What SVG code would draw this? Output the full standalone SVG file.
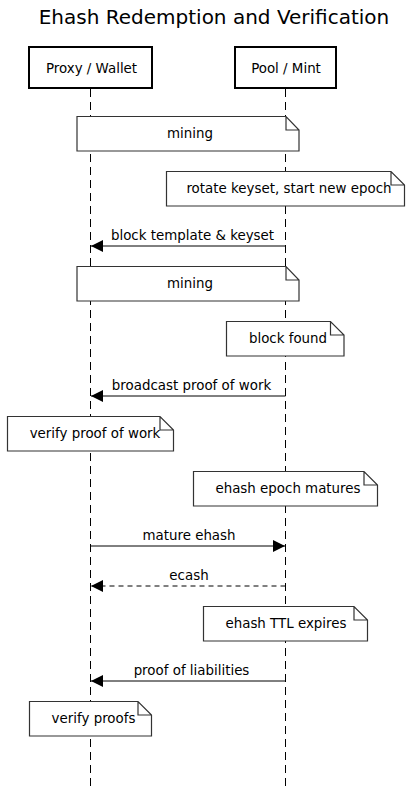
<svg xmlns="http://www.w3.org/2000/svg" width="412" height="789" viewBox="0 0 412 789">
<defs>
<style>
text{font-family:"DejaVu Sans","Liberation Sans",sans-serif;fill:#000;}
.title{font-size:20px;text-anchor:middle;}
.lbl{font-size:13.4px;text-anchor:middle;}
.actor{fill:#fff;stroke:#000;stroke-width:2;}
.note{fill:#fff;stroke:#333;stroke-width:1.2;}
.life{stroke:#000;stroke-width:1;stroke-dasharray:8,5;fill:none;}
.msg{stroke:#000;stroke-width:1;fill:none;}
.dash{stroke-dasharray:5,4;}
</style>
<marker id="ah" markerWidth="12" markerHeight="12" refX="12" refY="6" orient="auto" markerUnits="userSpaceOnUse">
<path d="M0,0 L12,6 L0,12 Z" fill="#000"/>
</marker>
</defs>
<rect width="412" height="789" fill="#fff"/>
<text class="title" x="214" y="24">Ehash Redemption and Verification</text>
<g id="lifelines">
<line class="life" x1="90.5" y1="89" x2="90.5" y2="789"/>
<line class="life" x1="285.5" y1="89" x2="285.5" y2="789"/>
</g>
<g id="proxy">
<rect class="actor" x="29" y="47" width="123" height="41"/>
<text class="lbl" x="91.5" y="73">Proxy / Wallet</text>
</g>
<g id="pool">
<rect class="actor" x="235" y="47" width="101" height="41"/>
<text class="lbl" x="286" y="73">Pool / Mint</text>
</g>
<g id="connectors">
<line class="msg" x1="285.5" y1="246" x2="91" y2="246" marker-end="url(#ah)"/>
<text class="lbl" x="192.5" y="240">block template &amp; keyset</text>
<line class="msg" x1="285.5" y1="396" x2="91" y2="396" marker-end="url(#ah)"/>
<text class="lbl" x="191.5" y="390">broadcast proof of work</text>
<line class="msg" x1="90.5" y1="546" x2="285" y2="546" marker-end="url(#ah)"/>
<text class="lbl" x="189" y="540">mature ehash</text>
<line class="msg dash" x1="285.5" y1="586" x2="91" y2="586" marker-end="url(#ah)"/>
<text class="lbl" x="189" y="580">ecash</text>
<line class="msg" x1="285.5" y1="681" x2="91" y2="681" marker-end="url(#ah)"/>
<text class="lbl" x="191.5" y="675">proof of liabilities</text>
</g>
<g id="note1">
<path class="note" d="M77,116.5 H286 L299,130 V151 H77 Z M286,116.5 V130 H299"/>
<text class="lbl" x="190" y="137.5">mining</text>
</g>
<g id="note2">
<path class="note" d="M166.5,171.5 H391 L404.5,185 V206 H166.5 Z M391,171.5 V185 H404.5"/>
<text class="lbl" x="289" y="193">rotate keyset, start new epoch</text>
</g>
<g id="note3">
<path class="note" d="M77,266.5 H286 L299,280 V301 H77 Z M286,266.5 V280 H299"/>
<text class="lbl" x="190" y="287.5">mining</text>
</g>
<g id="note4">
<path class="note" d="M226.5,321.5 H330.5 L344,335 V356 H226.5 Z M330.5,321.5 V335 H344"/>
<text class="lbl" x="288" y="343">block found</text>
</g>
<g id="note5">
<path class="note" d="M7.5,416.5 H160 L173.5,430 V451 H7.5 Z M160,416.5 V430 H173.5"/>
<text class="lbl" x="95" y="438">verify proof of work</text>
</g>
<g id="note6">
<path class="note" d="M193.5,471.5 H364 L377.5,485 V506 H193.5 Z M364,471.5 V485 H377.5"/>
<text class="lbl" x="288" y="493">ehash epoch matures</text>
</g>
<g id="note7">
<path class="note" d="M203.5,606.5 H354 L367.5,620 V641 H203.5 Z M354,606.5 V620 H367.5"/>
<text class="lbl" x="286" y="628">ehash TTL expires</text>
</g>
<g id="note8">
<path class="note" d="M29.5,701.5 H138 L151.5,715 V736 H29.5 Z M138,701.5 V715 H151.5"/>
<text class="lbl" x="93.5" y="723">verify proofs</text>
</g>
</svg>
